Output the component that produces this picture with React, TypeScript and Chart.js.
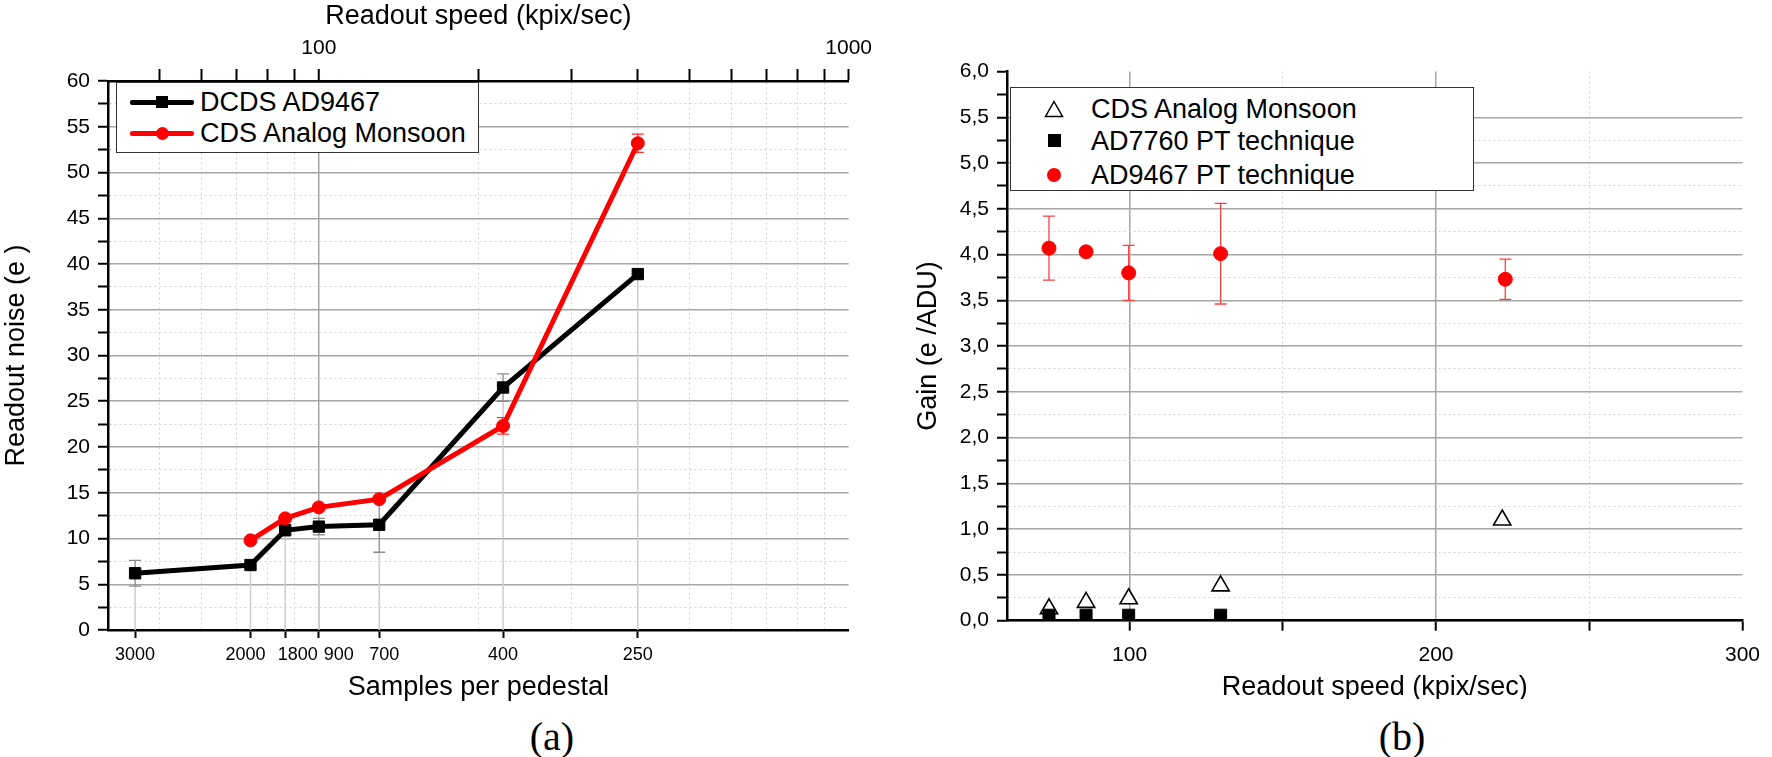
import { useEffect, useRef } from 'react';
import { Chart, registerables } from 'chart.js';

Chart.register(...registerables);
Chart.defaults.font.family = "'Liberation Sans', Arial, sans-serif";
Chart.defaults.color = '#000';

// (a) readout noise vs samples per pedestal (positioned by readout speed, kpix/sec)
const speedA = [45, 74.3, 86.4, 100, 130, 222.7, 400];
const sampleLabels = ['3000', '2000', '1800', '900', '700', '400', '250'];
const dcdsNoise = [6.2, 7.1, 10.9, 11.3, 11.5, 26.5, 38.9];
const dcdsErr = [1.4, 0, 0.4, 0.9, 3.0, 1.5, 0];
const monsoonSpeedA = [74.3, 86.4, 100, 130, 222.7, 400];
const monsoonNoise = [9.8, 12.2, 13.4, 14.3, 22.3, 53.2];
const monsoonErr = [0, 0, 0, 0, 0.9, 1.0];
const speedTicks = [50, 60, 70, 80, 90, 100, 200, 300, 400, 500, 600, 700, 800, 900, 1000];

// (b) gain vs readout speed
const monsoonSpeedB = [73.7, 85.8, 99.7, 129.7, 221.6];
const monsoonGain = [0.13, 0.2, 0.24, 0.38, 1.1];
const ad7760Speed = [73.7, 85.8, 99.7, 129.7];
const ad7760Gain = [0.06, 0.06, 0.06, 0.06];
const ad9467Speed = [73.7, 85.8, 99.7, 129.7, 222.6];
const ad9467Gain = [4.07, 4.03, 3.8, 4.01, 3.73];
const ad9467Err = [0.35, 0, 0.3, 0.55, 0.22];
const gainSpeedTicks = [100, 150, 200, 250, 300];

const MAJOR = '#a6a6a6';
const MINOR = '#d2d2d2';
const NONE = 'rgba(0,0,0,0)';
const FONT = "'Liberation Sans', Arial, sans-serif";
// the original figure sets some bottom labels off their ticks; nudged with spaces (+ leading, - trailing)
const labelNudge = [0, -2, 5, 8, 2, 0, 0];
const nudge = (s: string, n: number) => (n > 0 ? ' '.repeat(n) + s : s + ' '.repeat(-n));

// vertical error bars, read from ds.errors through the dataset's y scale
const errorBars = {
  id: 'errorBars',
  beforeDatasetsDraw(chart: any) {
    const { ctx } = chart;
    chart.data.datasets.forEach((ds: any, i: number) => {
      if (!ds.errors) return;
      const meta = chart.getDatasetMeta(i);
      const ys = chart.scales[meta.yAxisID];
      ctx.save();
      ctx.strokeStyle = ds.errorColor;
      ctx.lineWidth = 1.3;
      meta.data.forEach((pt: any, j: number) => {
        const e = ds.errors[j];
        if (!e) return;
        const v = ds.data[j].y;
        const t = ys.getPixelForValue(v + e), b = ys.getPixelForValue(v - e), x = pt.x, w = 6;
        ctx.beginPath();
        ctx.moveTo(x, t); ctx.lineTo(x, b);
        ctx.moveTo(x - w, t); ctx.lineTo(x + w, t);
        ctx.moveTo(x - w, b); ctx.lineTo(x + w, b);
        ctx.stroke();
      });
      ctx.restore();
    });
  },
};

// light drop lines from the points of a dataset down to the bottom axis
const dropLines = {
  id: 'dropLines',
  beforeDatasetsDraw(chart: any) {
    const { ctx, chartArea } = chart;
    chart.data.datasets.forEach((ds: any, i: number) => {
      if (!ds.dropLines) return;
      const meta = chart.getDatasetMeta(i);
      const ys = chart.scales[meta.yAxisID];
      ctx.save();
      ctx.strokeStyle = '#cdcdcd';
      ctx.lineWidth = 1.5;
      meta.data.forEach((pt: any, j: number) => {
        const top = ys.getPixelForValue(ds.data[j].y - (ds.errors?.[j] || 0));
        ctx.beginPath();
        ctx.moveTo(pt.x, top);
        ctx.lineTo(pt.x, chartArea.bottom);
        ctx.stroke();
      });
      ctx.restore();
    });
  },
};

const isMult = (v: number, s: number) => Math.abs(v / s - Math.round(v / s)) < 1e-9;

function NoiseChart() {
  const ref = useRef<HTMLCanvasElement>(null);

  useEffect(() => {
    if (!ref.current) return;
    const chart = new Chart(ref.current, {
      type: 'line',
      data: {
        datasets: [
          {
            label: 'DCDS AD9467',
            data: speedA.map((x, i) => ({ x, y: dcdsNoise[i] })),
            errors: dcdsErr, errorColor: '#8a8a8a', dropLines: true,
            borderColor: '#000', backgroundColor: '#000', borderWidth: 5,
            pointStyle: 'rect', pointRadius: 8, pointBorderWidth: 1, order: 1,
          },
          {
            label: 'CDS Analog Monsoon',
            data: monsoonSpeedA.map((x, i) => ({ x, y: monsoonNoise[i] })),
            errors: monsoonErr, errorColor: '#ff2a2a',
            borderColor: '#ff0000', backgroundColor: '#ff0000', borderWidth: 5,
            pointStyle: 'circle', pointRadius: 6.5, pointBorderWidth: 1, order: 0,
          },
        ] as any,
      },
      options: {
        animation: false,
        responsive: true,
        maintainAspectRatio: false,
        events: [],
        layout: { padding: { left: 0, top: 0, right: 25, bottom: 0 } },
        plugins: { legend: { display: false }, tooltip: { enabled: false } },
        scales: {
          x: {
            type: 'logarithmic', position: 'bottom', min: 40, max: 1000,
            afterBuildTicks: (s: any) => { s.ticks = speedA.map((v) => ({ value: v })); },
            afterFit: (s: any) => { s.height = 74; },
            ticks: { autoSkip: false, maxRotation: 0, font: { size: 18 }, padding: 6, callback: (_v: any, i: number) => nudge(sampleLabels[i], labelNudge[i]) },
            grid: { drawOnChartArea: false, tickColor: '#000', tickWidth: 2, tickLength: 8 },
            border: { color: '#000', width: 2.5 },
            title: { display: true, text: 'Samples per pedestal', font: { size: 27 }, padding: 0 },
          },
          xTop: {
            type: 'logarithmic', position: 'top', min: 40, max: 1000,
            afterBuildTicks: (s: any) => { s.ticks = speedTicks.map((v) => ({ value: v })); },
            afterFit: (s: any) => { s.height = 81; },
            ticks: { autoSkip: false, maxRotation: 0, font: { size: 21 }, padding: 8, callback: (v: any) => (v === 100 || v === 1000 ? String(v) : '') },
            grid: {
              color: (c: any) => (c.tick?.value === 100 ? MAJOR : c.tick?.value === 1000 ? NONE : MINOR),
              lineWidth: (c: any) => (c.tick?.value === 100 ? 1.5 : 1),
              tickColor: '#000', tickWidth: 2, tickLength: 12,
            },
            border: { color: '#000', width: 2.5, dash: (c: any) => (c.tick && c.tick.value !== 100 ? [2, 3] : []) },
            title: { display: true, text: 'Readout speed (kpix/sec)', font: { size: 27 }, padding: 0 },
          },
          y: {
            min: 0, max: 60,
            afterFit: (s: any) => { s.width = 108; },
            ticks: { stepSize: 2.5, autoSkip: false, font: { size: 21 }, padding: 8, callback: (v: any) => (isMult(v, 5) ? String(v) : '') },
            grid: {
              color: (c: any) => (c.tick && isMult(c.tick.value, 5) ? MAJOR : MINOR),
              lineWidth: (c: any) => (c.tick && isMult(c.tick.value, 5) ? 1.5 : 1),
              tickColor: '#000', tickWidth: 2, tickLength: 10,
            },
            border: { color: '#000', width: 2.5, dash: (c: any) => (c.tick && !isMult(c.tick.value, 5) ? [2, 3] : []) },
            title: { display: true, text: 'Readout noise (e )', font: { size: 27 }, padding: 0 },
          },
        },
      } as any,
      plugins: [dropLines, errorBars],
    });
    return () => chart.destroy();
  }, []);

  return <canvas ref={ref} />;
}

function GainChart() {
  const ref = useRef<HTMLCanvasElement>(null);

  useEffect(() => {
    if (!ref.current) return;
    const chart = new Chart(ref.current, {
      type: 'scatter',
      data: {
        datasets: [
          {
            label: 'CDS Analog Monsoon',
            data: monsoonSpeedB.map((x, i) => ({ x, y: monsoonGain[i] })),
            pointStyle: 'triangle', pointRadius: 10, pointBorderWidth: 1.6,
            backgroundColor: '#fff', borderColor: '#000', order: 2,
          },
          {
            label: 'AD7760 PT technique',
            data: ad7760Speed.map((x, i) => ({ x, y: ad7760Gain[i] })),
            pointStyle: 'rect', pointRadius: 8.5, pointBorderWidth: 1,
            backgroundColor: '#000', borderColor: '#000', order: 0,
          },
          {
            label: 'AD9467 PT technique',
            data: ad9467Speed.map((x, i) => ({ x, y: ad9467Gain[i] })),
            errors: ad9467Err, errorColor: '#ff4040',
            pointStyle: 'circle', pointRadius: 7, pointBorderWidth: 1,
            backgroundColor: '#ff0000', borderColor: '#ff0000', order: 1,
          },
        ] as any,
      },
      options: {
        animation: false,
        responsive: true,
        maintainAspectRatio: false,
        events: [],
        layout: { padding: { left: 0, top: 71.5, right: 18, bottom: 0 } },
        plugins: { legend: { display: false }, tooltip: { enabled: false } },
        scales: {
          x: {
            type: 'linear', min: 60, max: 300,
            afterBuildTicks: (s: any) => { s.ticks = gainSpeedTicks.map((v) => ({ value: v })); },
            afterFit: (s: any) => { s.height = 83.3; },
            ticks: { autoSkip: false, maxRotation: 0, font: { size: 21 }, padding: 12, callback: (v: any) => (isMult(v, 100) ? String(v) : '') },
            grid: {
              color: (c: any) => (!c.tick ? MAJOR : c.tick.value === 300 ? NONE : isMult(c.tick.value, 100) ? MAJOR : MINOR),
              lineWidth: (c: any) => (c.tick && isMult(c.tick.value, 100) ? 1.5 : 1),
              tickColor: '#000', tickWidth: 2, tickLength: 10,
            },
            border: { color: '#000', width: 2.5, dash: (c: any) => (c.tick && !isMult(c.tick.value, 100) ? [2, 3] : []) },
            title: { display: true, text: 'Readout speed (kpix/sec)', font: { size: 27 }, padding: 0 },
          },
          y: {
            min: 0, max: 6,
            afterFit: (s: any) => { s.width = 117; },
            ticks: { stepSize: 0.25, autoSkip: false, font: { size: 21 }, padding: 8, callback: (v: any) => (isMult(v, 0.5) ? v.toFixed(1).replace('.', ',') : '') },
            grid: {
              color: (c: any) => (!c.tick ? MAJOR : c.tick.value >= 5.75 ? NONE : isMult(c.tick.value, 0.5) ? MAJOR : MINOR),
              lineWidth: (c: any) => (c.tick && isMult(c.tick.value, 0.5) ? 1.5 : 1),
              tickColor: '#000', tickWidth: 2, tickLength: 10,
            },
            border: { color: '#000', width: 2.5, dash: (c: any) => (c.tick && !isMult(c.tick.value, 0.5) ? [2, 3] : []) },
            title: { display: true, text: 'Gain (e /ADU)', font: { size: 27 }, padding: { top: 22, bottom: 0 } },
          },
        },
      } as any,
      plugins: [errorBars],
    });
    return () => chart.destroy();
  }, []);

  return <canvas ref={ref} />;
}

const row = (top: number): React.CSSProperties => ({ position: 'absolute', left: 0, right: 0, top: top - 16, height: 32, lineHeight: '32px' });
const caption: React.CSSProperties = { position: 'absolute', top: 736, transform: 'translate(-50%, -50%)', font: "40px 'Liberation Serif', 'Times New Roman', serif" };

export default function App() {
  return (
    <div style={{ position: 'absolute', left: 0, top: 0, width: 1772, height: 757, background: '#fff', overflow: 'hidden' }}>
      <div style={{ position: 'absolute', left: 0, top: 0, width: 880, height: 704 }}>
        <NoiseChart />
      </div>
      <div style={{ position: 'absolute', left: 116, top: 82, width: 363, height: 71, border: '1.5px solid #333', background: '#fff', boxSizing: 'border-box', font: `27px ${FONT}` }}>
        <div style={row(19)}>
          <div style={{ position: 'absolute', left: 13, top: 13.5, width: 64, height: 5, background: '#000', borderRadius: 2 }} />
          <div style={{ position: 'absolute', left: 39, top: 10, width: 12, height: 12, background: '#000' }} />
          <span style={{ position: 'absolute', left: 83 }}>DCDS AD9467</span>
        </div>
        <div style={row(50)}>
          <div style={{ position: 'absolute', left: 13, top: 13.5, width: 64, height: 5, background: '#ff0000', borderRadius: 2 }} />
          <div style={{ position: 'absolute', left: 38.5, top: 9.5, width: 13, height: 13, background: '#ff0000', borderRadius: '50%' }} />
          <span style={{ position: 'absolute', left: 83 }}>CDS Analog Monsoon</span>
        </div>
      </div>

      <div style={{ position: 'absolute', left: 890, top: 0, width: 882, height: 699, overflow: 'hidden' }}>
        <div style={{ position: 'absolute', left: 0, top: 0, width: 882, height: 704 }}>
          <GainChart />
        </div>
      </div>
      <div style={{ position: 'absolute', left: 1010, top: 86.5, width: 464, height: 104, border: '1.5px solid #333', background: '#fff', boxSizing: 'border-box', font: `27px ${FONT}` }}>
        <div style={row(21)}>
          <svg style={{ position: 'absolute', left: 33, top: 7 }} width={20} height={18}>
            <polygon points="10,1.5 18.5,16.5 1.5,16.5" fill="#fff" stroke="#000" strokeWidth={1.5} />
          </svg>
          <span style={{ position: 'absolute', left: 80 }}>CDS Analog Monsoon</span>
        </div>
        <div style={row(53)}>
          <div style={{ position: 'absolute', left: 36.5, top: 9.5, width: 13, height: 13, background: '#000' }} />
          <span style={{ position: 'absolute', left: 80 }}>AD7760 PT technique</span>
        </div>
        <div style={row(87)}>
          <div style={{ position: 'absolute', left: 36, top: 9, width: 14, height: 14, background: '#ff0000', borderRadius: '50%' }} />
          <span style={{ position: 'absolute', left: 80 }}>AD9467 PT technique</span>
        </div>
      </div>

      <div style={{ ...caption, left: 552 }}>(a)</div>
      <div style={{ ...caption, left: 1402 }}>(b)</div>
    </div>
  );
}
